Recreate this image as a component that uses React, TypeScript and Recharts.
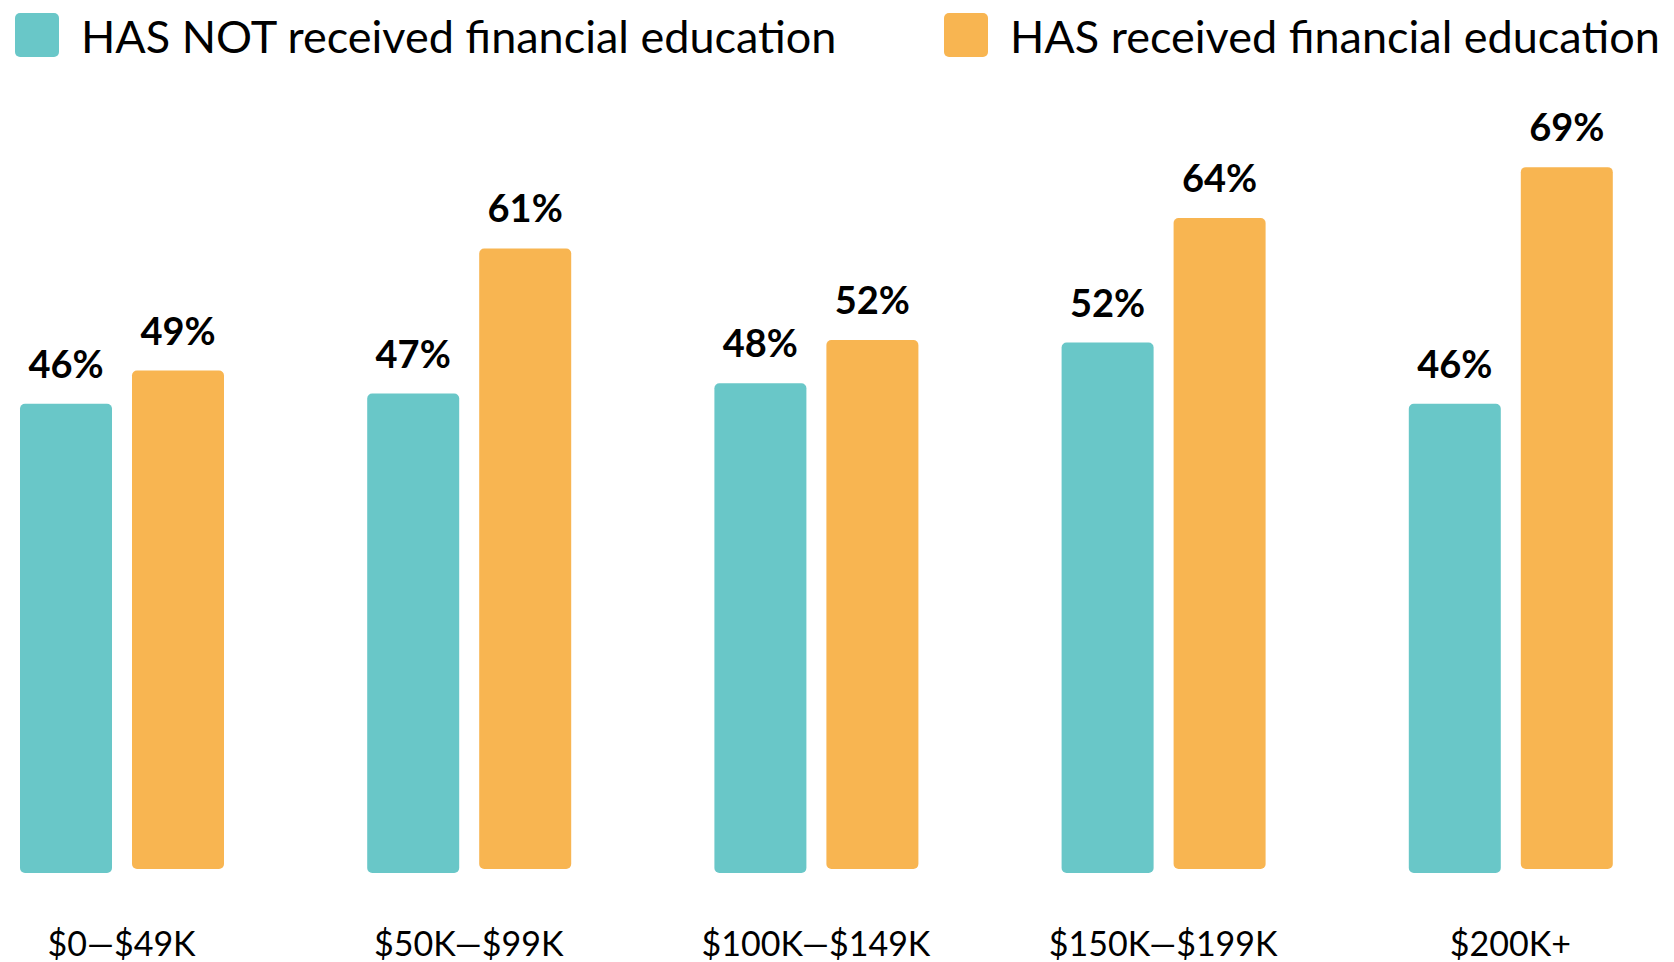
import React from "react";
import { Bar, BarChart, LabelList, XAxis, YAxis } from "recharts";

const incomeBands = ["$0—$49K", "$50K—$99K", "$100K—$149K", "$150K—$199K", "$200K+"];
const notEducated = [46, 47, 48, 52, 46];
const educated = [49, 61, 52, 64, 69];

const TEAL = "#69C7C8";
const ORANGE = "#F8B551";
const FONT = "Lato, 'Open Sans', sans-serif";

const chartData = incomeBands.map((band, i) => ({
  band,
  notEducated: notEducated[i],
  educated: educated[i],
}));

const IncomeTick = ({ x, y, payload }: any) => (
  <text
    x={x}
    y={y + 83}
    textAnchor="middle"
    fontSize={34}
    fontFamily={FONT}
    fill="#000"
  >
    {payload.value}
  </text>
);

const legendItems = [
  { label: "HAS NOT received financial education", color: TEAL, x: 15 },
  { label: "HAS received financial education", color: ORANGE, x: 944 },
];

export default function App() {
  return (
    <div
      style={{
        position: "absolute",
        left: 0,
        top: 0,
        width: 1674,
        height: 962,
        overflow: "hidden",
        background: "#fff",
        fontFamily: FONT,
      }}
    >
      <svg
        width={1674}
        height={80}
        style={{ position: "absolute", left: 0, top: 0 }}
      >
        {legendItems.map((item) => (
          <g key={item.label}>
            <rect x={item.x} y={13} width={44} height={44} rx={5} fill={item.color} />
            <text
              x={item.x + 66}
              y={53}
              fontSize={45}
              fontFamily={FONT}
              fill="#000"
            >
              {item.label}
            </text>
          </g>
        ))}
      </svg>
      <div style={{ position: "absolute", left: -52, top: 0 }}>
        <BarChart
          width={1736}
          height={962}
          data={chartData}
          margin={{ top: 100, right: 0, left: 0, bottom: 0 }}
          barGap={20}
        >
          <XAxis
            dataKey="band"
            axisLine={false}
            tickLine={false}
            tickSize={0}
            tickMargin={0}
            height={89}
            interval={0}
            tick={<IncomeTick />}
          />
          <YAxis yAxisId="a" hide type="number" domain={[0, 75.78]} allowDataOverflow />
          <YAxis yAxisId="b" hide type="number" domain={[-0.4, 75.6]} allowDataOverflow />
          <Bar
            yAxisId="a"
            dataKey="notEducated"
            fill={TEAL}
            barSize={92}
            radius={5}
            isAnimationActive={false}
          >
            <LabelList
              dataKey="notEducated"
              position="top"
              offset={26}
              formatter={(v: any) => `${v}%`}
              fill="#000"
              fontSize={38}
              fontWeight={700}
              fontFamily={FONT}
            />
          </Bar>
          <Bar
            yAxisId="b"
            dataKey="educated"
            fill={ORANGE}
            barSize={92}
            radius={5}
            isAnimationActive={false}
          >
            <LabelList
              dataKey="educated"
              position="top"
              offset={26}
              formatter={(v: any) => `${v}%`}
              fill="#000"
              fontSize={38}
              fontWeight={700}
              fontFamily={FONT}
            />
          </Bar>
        </BarChart>
      </div>
    </div>
  );
}
